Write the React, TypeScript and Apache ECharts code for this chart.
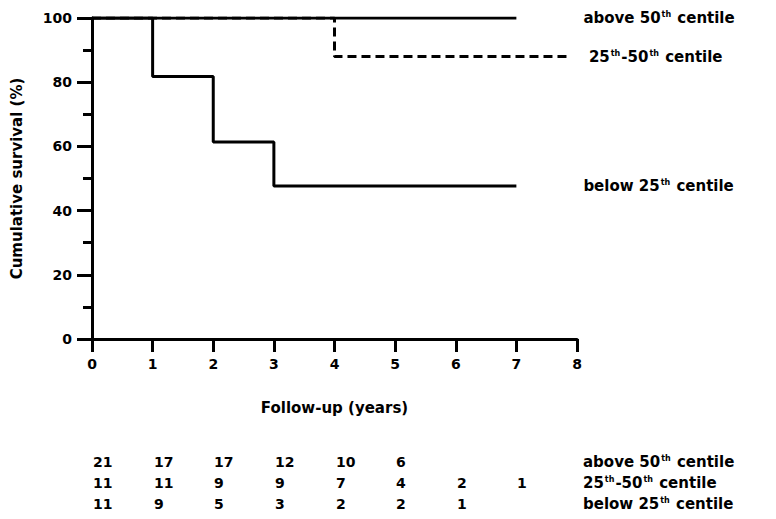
import React, { useEffect, useRef } from "react";
import * as echarts from "echarts";

const aboveCurve: [number, number][] = [[0, 100], [7, 100]];
const midCurve: [number, number][] = [[0, 100], [4, 88], [7.9, 88]];
const belowCurve: [number, number][] = [[0, 100], [1, 81.8], [2, 61.4], [3, 47.7], [7, 47.7]];

const rowNames = ["above 50{s|th} centile", "25{s|th}-50{s|th} centile", "below 25{s|th} centile"];
const atRiskAbove = [21, 17, 17, 12, 10, 6];
const atRiskMid = [11, 11, 9, 9, 7, 4, 2, 1];
const atRiskBelow = [11, 9, 5, 3, 2, 2, 1];

const FONT = "DejaVu Sans";
const rich = {
  s: { fontSize: 8, fontWeight: "bold", fontFamily: FONT, verticalAlign: "top", lineHeight: 10, padding: [0, 1, 6, 1], color: "#000" },
};

export default function App() {
  const ref = useRef<HTMLDivElement>(null);
  useEffect(() => {
    const chart = echarts.init(ref.current!, null, { renderer: "svg" });
    const atRisk = [atRiskAbove, atRiskMid, atRiskBelow];
    const tableData: [number, number, number][] = [];
    atRisk.forEach((row, r) => row.forEach((v, i) => tableData.push([i, r, v])));
    const lineStyleBase = { color: "#000", width: 3 };
    const labelBase = {
      show: true,
      color: "#000",
      fontFamily: FONT,
      fontWeight: "bold",
      fontSize: 15,
      rich,
    };
    chart.setOption({
      animation: false,
      textStyle: { fontFamily: FONT },
      grid: [
        { left: 92, right: 199, top: 18, bottom: 180, containLabel: false },
        { left: 92, right: 199, top: 451.5, height: 63, containLabel: false },
      ],
      xAxis: [
        {
          type: "value",
          gridIndex: 0,
          min: 0,
          max: 8,
          interval: 1,
          name: "Follow-up (years)",
          nameLocation: "middle",
          nameGap: 61,
          nameTextStyle: { color: "#000", fontWeight: "bold", fontSize: 15, fontFamily: FONT },
          axisLine: { show: true, lineStyle: { color: "#000", width: 3 } },
          axisTick: { show: true, length: 13, lineStyle: { color: "#000", width: 3 } },
          axisLabel: { color: "#000", fontWeight: "bold", fontSize: 14, margin: 18, fontFamily: FONT },
          splitLine: { show: false },
        },
        {
          type: "value",
          gridIndex: 1,
          min: 0,
          max: 8,
          show: false,
        },
      ],
      yAxis: [
        {
          type: "value",
          gridIndex: 0,
          min: 0,
          max: 100,
          interval: 20,
          name: "Cumulative survival (%)",
          nameLocation: "middle",
          nameGap: 68,
          nameTextStyle: { color: "#000", fontWeight: "bold", fontSize: 15, fontFamily: FONT },
          axisLine: { show: true, lineStyle: { color: "#000", width: 3 } },
          axisTick: { show: true, length: 15, lineStyle: { color: "#000", width: 3 } },
          minorTick: { show: true, splitNumber: 2, length: 9, lineStyle: { color: "#000", width: 3 } },
          axisLabel: { color: "#000", fontWeight: "bold", fontSize: 14, margin: 20, fontFamily: FONT },
          splitLine: { show: false },
        },
        {
          type: "category",
          gridIndex: 1,
          data: rowNames,
          inverse: true,
          position: "right",
          axisLine: { show: false },
          axisTick: { show: false },
          axisLabel: {
            show: true,
            margin: 6,
            align: "left",
            color: "#000",
            fontWeight: "bold",
            fontSize: 15,
            fontFamily: FONT,
            rich,
          },
        },
      ],
      series: [
        {
          type: "line",
          name: "above",
          xAxisIndex: 0,
          yAxisIndex: 0,
          data: aboveCurve,
          step: "end",
          symbol: "none",
          lineStyle: lineStyleBase,
          endLabel: { ...labelBase, distance: 67, formatter: rowNames[0] },
          z: 3,
        },
        {
          type: "line",
          name: "mid",
          xAxisIndex: 0,
          yAxisIndex: 0,
          data: midCurve,
          step: "end",
          symbol: "none",
          lineStyle: { ...lineStyleBase, type: [9, 5] },
          endLabel: { ...labelBase, distance: 18, formatter: rowNames[1] },
          z: 2,
        },
        {
          type: "line",
          name: "below",
          xAxisIndex: 0,
          yAxisIndex: 0,
          data: belowCurve,
          step: "end",
          symbol: "none",
          lineStyle: lineStyleBase,
          endLabel: { ...labelBase, distance: 67, formatter: rowNames[2] },
          z: 3,
        },
        {
          type: "custom",
          xAxisIndex: 1,
          yAxisIndex: 1,
          data: tableData,
          renderItem: (params: any, api: any) => {
            const pt = api.coord([api.value(0), api.value(1)]);
            return {
              type: "text",
              x: Math.round(pt[0]) + 1,
              y: Math.round(pt[1]),
              style: {
                text: String(api.value(2)),
                fill: "#000",
                font: `bold 14px "${FONT}"`,
                align: "left",
                verticalAlign: "middle",
              },
            };
          },
        },
      ],
    });
    return () => chart.dispose();
  }, []);
  return <div ref={ref} style={{ width: 776, height: 519, position: "absolute", left: 0, top: 0 }} />;
}
